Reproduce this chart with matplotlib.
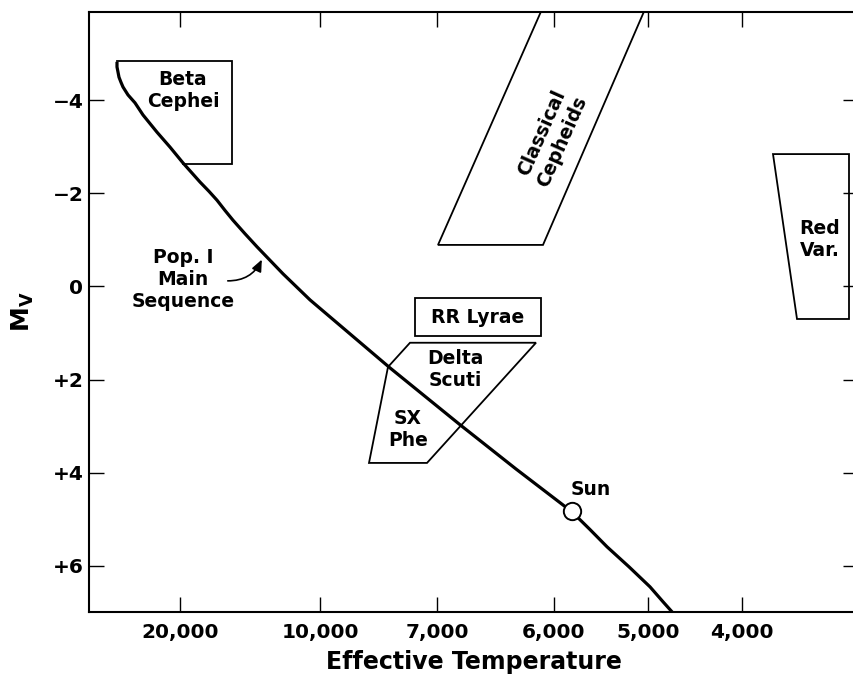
#!/usr/bin/env python3
"""
Instability strip sketch: pulsating variable regions on the HR diagram
(absolute visual magnitude vs. effective temperature).
"""
import matplotlib
matplotlib.use('Agg')
import matplotlib.pyplot as plt
from matplotlib.patches import Polygon

# x axis is a non-linear temperature scale, so work in plot units and label ticks
temp_tick_pos = [0.91, 2.31, 3.48, 4.65, 5.59, 6.53]
temp_tick_labels = ['20,000', '10,000', '7,000', '6,000', '5,000', '4,000']
mag_ticks = [-4, -2, 0, 2, 4, 6]
mag_tick_labels = ['\u22124', '\u22122', '0', '+2', '+4', '+6']

# Pop. I main sequence
ms_x = [0.28, 0.28, 0.29, 0.30, 0.32, 0.34, 0.39, 0.46, 0.54, 0.68, 0.81, 0.94, 1.11, 1.20,
        1.28, 1.36, 1.44, 1.56, 1.68, 1.94, 2.21, 2.61, 3.01, 3.36, 3.71, 4.27, 4.83,
        5.01, 5.18, 5.40, 5.61, 5.74, 5.84]
ms_y = [-4.82, -4.71, -4.60, -4.49, -4.38, -4.28, -4.11, -3.94, -3.68, -3.31, -2.99, -2.65,
        -2.24, -2.04, -1.85, -1.63, -1.42, -1.13, -0.85, -0.27, 0.29, 1.02, 1.75, 2.36,
        2.97, 3.92, 4.84, 5.22, 5.59, 6.02, 6.45, 6.77, 7.01]

sun_x, sun_y = 4.83, 4.83

# variable star regions (outline vertices)
beta_cep_x = [0.28, 1.43, 1.43, 0.94]
beta_cep_y = [-4.84, -4.84, -2.63, -2.63]
cepheid_x = [3.49, 4.54, 5.55, 4.52]
cepheid_y = [-0.89, -0.89, -5.9, -5.9]
red_var_x = [6.84, 7.60, 7.60, 7.08]
red_var_y = [-2.84, -2.84, 0.70, 0.70]
rr_lyr_x = [3.26, 4.52, 4.52, 3.26]
rr_lyr_y = [0.25, 0.25, 1.06, 1.06]
dsct_x = [3.21, 4.47, 3.38, 2.80, 2.99]
dsct_y = [1.21, 1.21, 3.79, 3.79, 1.73]

FONT = 'DejaVu Sans'
plt.rcParams['font.family'] = [FONT]
plt.rcParams['mathtext.fontset'] = 'dejavusans'

fig = plt.figure(figsize=(8.54, 6.76), dpi=100)
ax = fig.add_axes([89 / 854, 1 - 612 / 676, (858 - 89) / 854, 600 / 676])
ax.set_xlim(0, 7.69)
ax.set_ylim(6.99, -5.89)


def outline(xs, ys, closed=True):
    if not closed:
        ax.plot(xs, ys, color='k', lw=1.3, solid_joinstyle='miter')
        return
    ax.add_patch(Polygon(list(zip(xs, ys)), closed=True, fill=False, edgecolor='k',
                         lw=1.3, joinstyle='miter'))


# Beta Cephei box: its left side is the main sequence itself
outline(beta_cep_x, beta_cep_y, closed=False)
outline(cepheid_x, cepheid_y)
outline(red_var_x, red_var_y)
outline(rr_lyr_x, rr_lyr_y)
outline(dsct_x, dsct_y)

ax.plot(ms_x, ms_y, color='k', lw=2.3, solid_capstyle='butt', solid_joinstyle='round',
        zorder=3)
ax.plot([sun_x], [sun_y], 'o', ms=12.5, mfc='white', mec='k', mew=1.4, zorder=4)

txt = dict(fontsize=13.5, fontweight='bold', ha='center', va='center',
           linespacing=1.2, color='k')
ax.text(0.94, -4.21, 'Beta\nCephei', **txt)
ax.text(0.94, -0.14, 'Pop. I\nMain\nSequence', **txt)
ax.text(4.63, -3.2, 'Classical\nCepheids', rotation=66, **txt)
ax.text(7.31, -1.0, 'Red\nVar.', **txt)
ax.text(3.89, 0.66, 'RR Lyrae', **txt)
ax.text(3.66, 1.79, 'Delta\nScuti', **txt)
ax.text(3.19, 3.08, 'SX\nPhe', **txt)
ax.text(5.02, 4.37, 'Sun', **txt)

# curved pointer from the label to the main sequence
ax.annotate('', xy=(1.74, -0.63), xytext=(1.36, -0.12),
            arrowprops=dict(arrowstyle='-|>,head_length=0.7,head_width=0.3',
                            connectionstyle='arc3,rad=0.35', color='k', lw=1.2))

# axes styling
for side in ('left', 'bottom', 'top'):
    ax.spines[side].set_linewidth(1.5)
ax.spines['right'].set_visible(False)

ax.set_xticks(temp_tick_pos)
ax.set_xticklabels(temp_tick_labels)
ax.set_yticks(mag_ticks)
ax.set_yticklabels(mag_tick_labels)
ax.tick_params(axis='x', direction='in', length=11, width=1.0, top=True, bottom=True,
               labeltop=False, pad=8, labelsize=14.5)
ax.tick_params(axis='y', direction='in', length=11, width=1.0, left=True, right=True,
               labelright=False, pad=4, labelsize=14.5)
for lab in ax.get_xticklabels() + ax.get_yticklabels():
    lab.set_fontweight('bold')

ax.set_xlabel('Effective Temperature', fontsize=17, fontweight='bold', labelpad=6)
ax.set_ylabel(r'$\mathbf{M_V}$', fontsize=18, labelpad=12)

fig.savefig('out.png', dpi=100)
